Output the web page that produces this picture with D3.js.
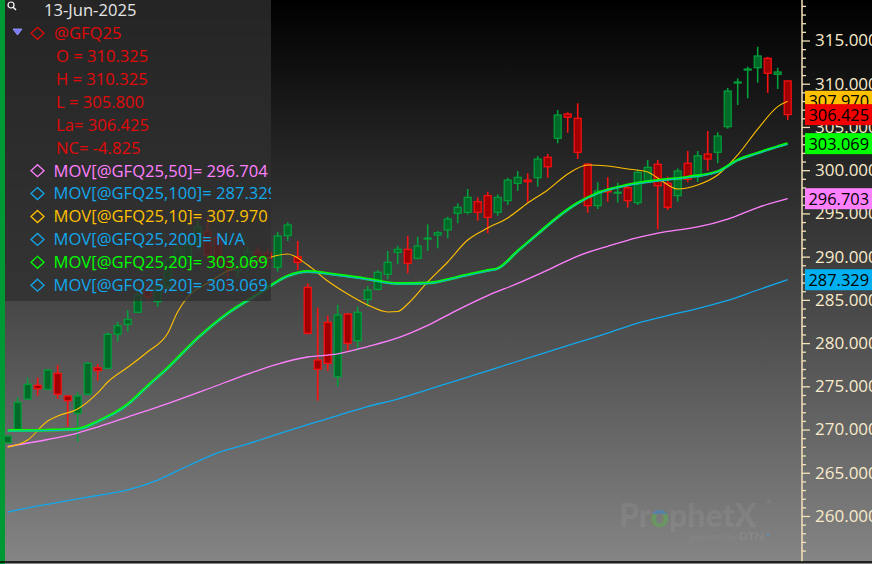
<!DOCTYPE html>
<html><head><meta charset="utf-8">
<script src="https://cdn.jsdelivr.net/npm/d3@7"></script>
<style>html,body{margin:0;padding:0;background:#000;overflow:hidden}svg{display:block}</style>
</head><body><svg id="c" width="872" height="564"></svg>
<script>
// ---------- DATA ----------
const opens  = [268.48,270.03,273.53,275.12,274.65,276.51,273.88,271.88,274.08,277.15,277.08,281.02,282.17,283.56,286.14,284.80,286.52,289.40,289.60,291.35,292.88,292.12,289.40,288.40,288.84,290.57,290.40,288.77,292.42,289.99,286.45,278.04,282.40,276.11,283.36,280.28,285.06,286.22,287.96,290.50,290.85,289.81,292.10,292.50,293.08,295.01,295.13,296.35,297.05,295.13,296.47,298.48,298.86,299.13,301.49,303.69,306.50,306.00,300.71,295.89,297.60,297.35,297.97,296.24,298.78,300.68,298.48,297.05,300.80,299.25,301.87,302.07,305.03,310.10,311.60,311.85,312.94,311.09,310.325];
const highs  = [269.35,273.73,276.00,276.00,277.00,277.46,274.00,274.31,277.78,277.58,281.25,282.47,283.83,286.14,286.90,286.90,290.00,291.50,292.20,294.20,294.62,292.80,290.20,289.60,291.20,291.10,290.90,292.88,293.97,291.81,286.92,284.09,283.17,284.41,283.45,284.21,286.60,288.45,290.65,291.26,292.39,292.31,293.74,292.96,294.62,296.17,297.82,296.86,297.51,297.20,299.13,299.90,299.64,301.64,301.87,306.96,306.69,307.74,300.79,298.60,299.18,298.55,298.20,300.10,301.18,301.18,299.25,300.20,302.22,302.22,304.53,304.38,309.51,310.63,311.97,314.28,313.10,311.85,310.325];
const lows   = [268.40,270.00,273.50,273.91,274.60,273.53,270.33,268.59,274.00,275.65,277.00,280.16,281.32,283.50,284.90,284.20,286.20,288.90,289.00,290.80,289.60,288.90,285.76,287.60,288.30,289.30,288.60,288.26,291.81,288.45,281.00,273.34,276.77,274.96,279.00,279.12,284.21,286.06,287.38,289.11,288.07,289.70,290.65,290.96,292.12,293.86,294.90,294.16,292.70,294.73,295.97,297.59,296.28,298.09,299.13,303.11,304.34,301.29,295.08,295.51,296.35,296.24,295.66,295.97,298.50,293.16,295.39,296.35,298.60,298.67,299.94,300.80,304.80,307.54,308.31,310.12,308.96,309.39,305.80];
const closes = [269.25,273.15,275.23,274.72,276.89,274.08,273.34,273.88,277.66,276.81,281.02,282.01,282.75,285.56,285.40,286.50,289.61,291.00,291.40,293.46,290.19,289.41,288.50,289.03,290.57,289.99,289.80,292.39,293.66,289.34,281.13,276.97,277.66,283.25,279.98,283.56,286.14,288.19,289.34,290.85,289.23,291.23,292.15,292.77,294.35,295.71,296.86,295.13,294.55,296.86,298.86,299.18,298.67,301.29,300.40,306.38,306.12,302.07,295.89,297.59,297.50,297.45,296.47,299.75,300.33,298.20,295.71,299.90,298.95,301.67,301.29,303.95,309.16,310.20,311.70,313.21,311.21,311.36,306.425];

// moving averages at these bar indices
const ma10Idx = [0,2,4,5,7,9,10,12,14,16,17,18,20,22,24,26,28,30,32,34,36,38,39,40,42,44,46,48,50,52,54,56,58,60,62,64,65,67,69,71,73,75,77,78];
const ma10Val = [267.97,268.79,270.99,271.57,272.38,274.23,275.5,277.2,279.0,281.13,283.63,285.33,286.95,288.34,289.03,289.84,290.3,289.03,287.18,285.68,284.41,283.6,283.65,284.52,287.07,289.38,291.92,293.31,294.47,296.2,297.71,299.56,300.6,300.48,300.14,299.79,299.1,297.82,298.29,299.44,301.76,304.75,307.35,307.97];
const ma20Idx = [0,4,7,9,12,14,16,19,22,25,28,30,33,36,39,42,45,48,49,51,53,55,57,59,62,65,68,71,73,75,77,78];
const ma20Val = [269.89,269.94,270.06,270.93,272.9,275.04,277.12,280.59,283.45,285.64,287.76,288.28,287.88,287.41,286.89,286.95,287.64,288.4,288.63,290.65,292.62,294.58,296.2,297.36,298.29,298.81,299.21,299.85,301.18,301.99,302.74,303.069];
const ma50Idx = [0,4,7,9,12,16,20,24,27,30,33,36,39,42,45,48,51,54,57,60,63,66,69,72,75,78];
const ma50Val = [268.04,268.85,269.6,270.29,271.45,273.01,274.69,276.42,277.58,278.39,278.74,279.6,280.6,282.05,283.85,285.5,286.9,288.45,290.07,291.2,292.2,292.91,293.43,294.35,295.68,296.704];
const ma100Idx = [0,3,6,9,12,15,18,21,24,27,30,33,36,39,42,45,48,51,54,57,60,63,66,69,72,75,78];
const ma100Val = [260.46,261.16,261.79,262.37,263.01,264.16,265.78,267.29,268.33,269.48,270.58,271.62,272.66,273.53,274.63,275.7,276.8,277.9,278.97,280.07,281.15,282.32,283.19,284.0,284.93,286.14,287.329];

const yTicks = [260,265,270,275,280,285,290,295,300,305,310,315];
const dateLabel = "13-Jun-2025";
const symbol = "@GFQ25";
const ohlcLabels = ["O = 310.325","H = 310.325","L = 305.800","La= 306.425","NC= -4.825"];
const movLabels = ["MOV[@GFQ25,50]= 296.704","MOV[@GFQ25,100]= 287.329","MOV[@GFQ25,10]= 307.970","MOV[@GFQ25,200]= N/A","MOV[@GFQ25,20]= 303.069","MOV[@GFQ25,20]= 303.069"];
const priceTags = [296.703, 287.329, 303.069, 307.970, 306.425];

// ---------- STYLE ----------
const C = {red:"#e00a0a", pink:"#ff80ff", blue:"#12a8ec", gold:"#ffc000", green:"#00ff00"};
const movColors = [C.pink, C.blue, C.gold, C.blue, C.green, C.blue];
const tagColors = [C.pink, "#00b0f0", C.green, C.gold, "#f00000"];
const FONT = "'Open Sans', sans-serif";

const W = 872, H = 564;
const svg = d3.select("#c");
const defs = svg.append("defs");
const bg = defs.append("linearGradient").attr("id","bg").attr("x1",0).attr("y1",0).attr("x2",0).attr("y2",1);
bg.append("stop").attr("offset","0").attr("stop-color","#000");
bg.append("stop").attr("offset","1").attr("stop-color","#858585");
const og = defs.append("linearGradient").attr("id","og").attr("x1",0).attr("y1",0).attr("x2",0).attr("y2",1);
og.append("stop").attr("offset","0.5").attr("stop-color","#3f86c8");
og.append("stop").attr("offset","0.5").attr("stop-color","#5fa850");
defs.append("clipPath").attr("id","plot").append("rect").attr("x",5).attr("y",0).attr("width",797).attr("height",562);
defs.append("clipPath").attr("id","leg").append("rect").attr("x",5).attr("y",0).attr("width",266).attr("height",301);

svg.append("rect").attr("width",W).attr("height",H).attr("fill","url(#bg)");

const x = d3.scaleLinear().domain([0, 78]).range([7.7, 787.7]);
const y = d3.scaleLinear().domain([260, 315]).range([516, 40.5]);

// watermark
const wm = svg.append("g").attr("font-family","Lato, 'Open Sans', sans-serif");
const wt = wm.append("text").attr("x",619).attr("y",527).attr("font-size",32).attr("font-weight",900)
  .attr("fill","#fff").attr("fill-opacity",0.075);
wt.append("tspan").text("Pr");
wt.append("tspan").attr("fill","url(#og)").attr("fill-opacity",0.6).text("o");
wt.append("tspan").text("phetX");
wm.append("text").attr("x",766).attr("y",505).attr("font-size",7).attr("fill","#fff").attr("fill-opacity",0.12).text("®");
const pw = wm.append("text").attr("x",690).attr("y",540).attr("fill","#fff").attr("fill-opacity",0.07);
pw.append("tspan").attr("font-size",9).text("powered by ");
pw.append("tspan").attr("font-size",12).attr("font-weight",900).text("DTN");
wm.append("circle").attr("cx",768).attr("cy",535).attr("r",1.5).attr("fill","#4aa0d0").attr("fill-opacity",0.5);

const plot = svg.append("g").attr("clip-path","url(#plot)");
const idx = d3.range(opens.length);
const up = i => closes[i] >= opens[i];

plot.selectAll("line.wick").data(idx).join("line").attr("class","wick")
  .attr("x1",i=>x(i)).attr("x2",i=>x(i))
  .attr("y1",i=>y(highs[i])).attr("y2",i=>y(lows[i]))
  .attr("stroke",i=>up(i)?"#00a03a":"#ff1010").attr("stroke-width",1.6);
plot.selectAll("rect.body").data(idx).join("rect").attr("class","body")
  .attr("x",i=>x(i)-3.5).attr("width",7)
  .attr("y",i=>y(Math.max(opens[i],closes[i])))
  .attr("height",i=>Math.max(1,Math.abs(y(opens[i])-y(closes[i]))))
  .attr("fill",i=>up(i)?"#006b28":"#a00000")
  .attr("stroke",i=>up(i)?"#00a03a":"#ff1010").attr("stroke-width",1.2);

function maLine(ix, vals, color, w, dy){
  const pts = ix.map((k,j)=>[x(k), y(vals[j]) + (dy||0)]);
  plot.append("path").attr("d", d3.line().curve(d3.curveMonotoneX)(pts))
    .attr("fill","none").attr("stroke",color).attr("stroke-width",w);
}
maLine(ma100Idx, ma100Val, "#12a8ec", 1.3);
maLine(ma50Idx, ma50Val, "#ff80ff", 1.3);
maLine(ma10Idx, ma10Val, "#ffc000", 1.1);
maLine(ma20Idx, ma20Val, "#00ff00", 2.8);
maLine(ma20Idx, ma20Val, "#12a8ec", 1.0, 0.6);

// left green bar
svg.append("rect").attr("x",0).attr("y",0).attr("width",5).attr("height",H).attr("fill","#009933");

// legend panel
svg.append("rect").attr("x",5).attr("y",0).attr("width",266).attr("height",301).attr("fill","#2f2f2f").attr("fill-opacity",0.78);
const lg = svg.append("g").attr("clip-path","url(#leg)").attr("font-family",FONT).attr("font-size",16.6);
// magnifier icon
lg.append("circle").attr("cx",11).attr("cy",5).attr("r",3).attr("fill","none").attr("stroke","#fff").attr("stroke-width",1.2);
lg.append("line").attr("x1",13.2).attr("y1",7.2).attr("x2",16).attr("y2",10).attr("stroke","#fff").attr("stroke-width",1.4);
lg.append("text").attr("x",44).attr("y",10.5).attr("dy","0.35em").attr("fill","#e6e6e6").text(dateLabel);
const rowY = k => 33.3 + 22.9*k;
lg.append("path").attr("d",`M13,29 L22,29 L17.5,35 Z`).attr("fill","#7a7aff").attr("stroke","#a0a0ff").attr("stroke-width",0.8);
function diamond(cy, color){
  lg.append("path").attr("d",`M37.5,${cy-6} L44,${cy} L37.5,${cy+6} L31,${cy} Z`)
    .attr("fill","none").attr("stroke",color).attr("stroke-width",1.3);
}
diamond(rowY(0), C.red);
lg.append("text").attr("x",54).attr("y",rowY(0)).attr("dy","0.35em").attr("fill",C.red).text(symbol);
ohlcLabels.forEach((t,k)=>{
  lg.append("text").attr("x",56).attr("y",rowY(k+1)).attr("dy","0.35em").attr("fill",C.red).text(t);
});
movLabels.forEach((t,k)=>{
  const cy = rowY(k+6);
  diamond(cy, movColors[k]);
  lg.append("text").attr("x",53.5).attr("y",cy).attr("dy","0.35em").attr("fill",movColors[k]).text(t);
});

// right axis
const ax = svg.append("g").attr("transform","translate(802,0)").attr("font-family",FONT);
ax.append("line").attr("x1",0).attr("x2",0).attr("y1",0).attr("y2",562).attr("stroke","#f3e2b8").attr("stroke-width",1.5);
const minor = d3.range(255, 320).filter(v=>v%5!==0);
ax.append("g").call(d3.axisRight(y).tickValues(minor).tickSize(4).tickFormat(""))
  .call(g=>{g.select(".domain").remove(); g.selectAll("line").attr("stroke","#f3e2b8").attr("stroke-width",1.3);});
ax.append("g").call(d3.axisRight(y).tickValues(yTicks).tickSize(8).tickPadding(5).tickFormat(d3.format(".3f")))
  .call(g=>{g.select(".domain").remove(); g.selectAll("line").attr("stroke","#f3e2b8").attr("stroke-width",1.3);
    g.selectAll("text").attr("fill","#f8ebcb").attr("font-size",17).attr("font-family",FONT);});

// price tags
priceTags.forEach((v,k)=>{
  const g = svg.append("g");
  g.append("rect").attr("x",805).attr("y",y(v)-10.5).attr("width",70).attr("height",21).attr("fill",tagColors[k]);
  g.append("text").attr("x",808.5).attr("y",y(v)).attr("dy","0.36em").attr("font-size",16.4)
    .attr("font-family",FONT).attr("fill","#000").text(d3.format(".3f")(v));
});

// bottom border
svg.append("line").attr("x1",0).attr("x2",W).attr("y1",562).attr("y2",562).attr("stroke","#000").attr("stroke-width",1.5);
</script></body></html>
